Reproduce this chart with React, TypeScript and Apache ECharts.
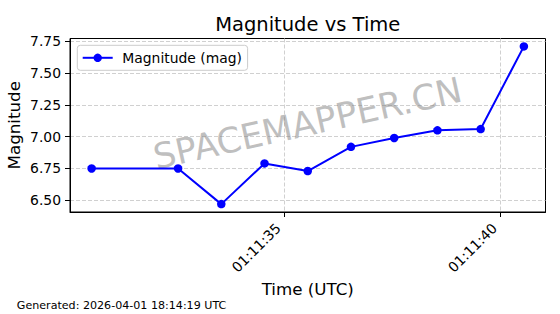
import React, { useEffect, useRef } from "react";
import * as echarts from "echarts";

const times = [
  "01:11:30.55",
  "01:11:32.55",
  "01:11:33.55",
  "01:11:34.55",
  "01:11:35.55",
  "01:11:36.55",
  "01:11:37.55",
  "01:11:38.55",
  "01:11:39.55",
  "01:11:40.55",
];
const magnitudes = [6.75, 6.75, 6.47, 6.79, 6.73, 6.92, 6.99, 7.05, 7.06, 7.71];
const xTickTimes = ["01:11:35", "01:11:40"];
const yTicks = [6.5, 6.75, 7.0, 7.25, 7.5, 7.75];
const seriesName = "Magnitude (mag)";
const titleText = "Magnitude vs Time";
const xAxisTitle = "Time (UTC)";
const yAxisTitle = "Magnitude";
const watermarkText = "SPACEMAPPER.CN";
const footerText = "Generated: 2026-04-01 18:14:19 UTC";

const FONT = "'DejaVu Sans', sans-serif";

function toSec(t: string): number {
  const [h, m, s] = t.split(":");
  return Number(h) * 3600 + Number(m) * 60 + Number(s);
}
function fmtSec(v: number): string {
  const total = Math.round(v);
  const h = Math.floor(total / 3600);
  const m = Math.floor((total % 3600) / 60);
  const s = total % 60;
  const p = (n: number) => String(n).padStart(2, "0");
  return `${p(h)}:${p(m)}:${p(s)}`;
}

export default function App() {
  const ref = useRef<HTMLDivElement>(null);
  useEffect(() => {
    if (!ref.current) return;
    const chart = echarts.init(ref.current, undefined, { renderer: "svg" });
    const xs = times.map(toSec);
    const xMinD = Math.min(...xs);
    const xMaxD = Math.max(...xs);
    const xPad = (xMaxD - xMinD) * 0.05;
    const yMinD = Math.min(...magnitudes);
    const yMaxD = Math.max(...magnitudes);
    const yPad = (yMaxD - yMinD) * 0.05;
    const data = xs.map((x, i) => [x, magnitudes[i]]);

    const gridLeft = 70;
    const gridTop = 38.5;
    const gridW = 475.5;
    const gridH = 173.5;

    chart.setOption({
      animation: false,
      backgroundColor: "#ffffff",
      textStyle: { fontFamily: FONT },
      grid: {
        left: gridLeft,
        top: gridTop,
        width: gridW,
        height: gridH,
        show: true,
        borderColor: "#000000",
        borderWidth: 1,
        backgroundColor: "transparent",
      },
      legend: {
        left: 77.3,
        top: 45.3,
        orient: "vertical",
        itemWidth: 30,
        itemHeight: 10.5,
        padding: [5.5, 5.6, 5.5, 4.4],
        backgroundColor: "rgba(255,255,255,0.8)",
        borderColor: "#cccccc",
        borderWidth: 1,
        borderRadius: 3,
        textStyle: {
          fontFamily: FONT,
          fontSize: 13.9,
          color: "#000000",
          padding: [0, 0, 0, 4.6],
          lineHeight: 14,
        },
        data: [seriesName],
      },
      xAxis: {
        type: "value",
        min: xMinD - xPad,
        max: xMaxD + xPad,
        axisLine: { show: true, lineStyle: { color: "#000000", width: 1 } },
        axisTick: {
          show: true,
          length: 5,
          lineStyle: { color: "#000000", width: 1 },
          customValues: xTickTimes.map(toSec),
        },
        axisLabel: {
          customValues: xTickTimes.map(toSec),
          formatter: (v: number) => fmtSec(v),
          rotate: 45,
          margin: 8,
          padding: [0, 8, 0, 0],
          fontFamily: FONT,
          fontSize: 13.9,
          color: "#000000",
        },
        splitLine: {
          show: true,
          lineStyle: { color: "#d0d0d0", width: 1, type: [4, 2] },
        },
      },
      yAxis: {
        type: "value",
        min: yMinD - yPad,
        max: yMaxD + yPad,
        axisLine: { show: true, lineStyle: { color: "#000000", width: 1 } },
        axisTick: {
          show: true,
          length: 5,
          lineStyle: { color: "#000000", width: 1 },
          customValues: yTicks,
        },
        axisLabel: {
          customValues: yTicks,
          formatter: (v: number) => v.toFixed(2),
          margin: 9,
          fontFamily: FONT,
          fontSize: 13.9,
          color: "#000000",
        },
        splitLine: {
          show: true,
          lineStyle: { color: "#d0d0d0", width: 1, type: [4, 2] },
        },
      },
      graphic: [
        {
          type: "text",
          x: 307.5,
          y: 123,
          rotation: (12.5 * Math.PI) / 180,
          z: 1,
          silent: true,
          style: {
            text: watermarkText,
            fontFamily: FONT,
            fontSize: 35.1,
            fill: "rgba(128,128,128,0.5)",
            align: "center",
            verticalAlign: "middle",
          },
        },
        {
          type: "text",
          x: gridLeft + gridW / 2,
          y: 24.5,
          style: {
            text: titleText,
            fontFamily: FONT,
            fontSize: 19.5,
            fill: "#000000",
            align: "center",
            verticalAlign: "middle",
          },
        },
        {
          type: "text",
          x: gridLeft + gridW / 2,
          y: 289.2,
          style: {
            text: xAxisTitle,
            fontFamily: FONT,
            fontSize: 16.7,
            fill: "#000000",
            align: "center",
            verticalAlign: "middle",
          },
        },
        {
          type: "text",
          x: 14.2,
          y: gridTop + gridH / 2,
          rotation: Math.PI / 2,
          style: {
            text: yAxisTitle,
            fontFamily: FONT,
            fontSize: 16.7,
            fill: "#000000",
            align: "center",
            verticalAlign: "middle",
          },
        },
        {
          type: "text",
          x: 16.8,
          y: 305.4,
          style: {
            text: footerText,
            fontFamily: FONT,
            fontSize: 11.1,
            fill: "#000000",
            align: "left",
            verticalAlign: "middle",
          },
        },
      ],
      series: [
        {
          name: seriesName,
          type: "line",
          data,
          z: 5,
          symbol: "circle",
          symbolSize: 8.5,
          showSymbol: true,
          lineStyle: { color: "#0000ff", width: 2 },
          itemStyle: { color: "#0000ff" },
        },
      ],
    });
    return () => chart.dispose();
  }, []);
  return (
    <div
      ref={ref}
      style={{ position: "fixed", left: 0, top: 0, width: 560, height: 314 }}
    />
  );
}
